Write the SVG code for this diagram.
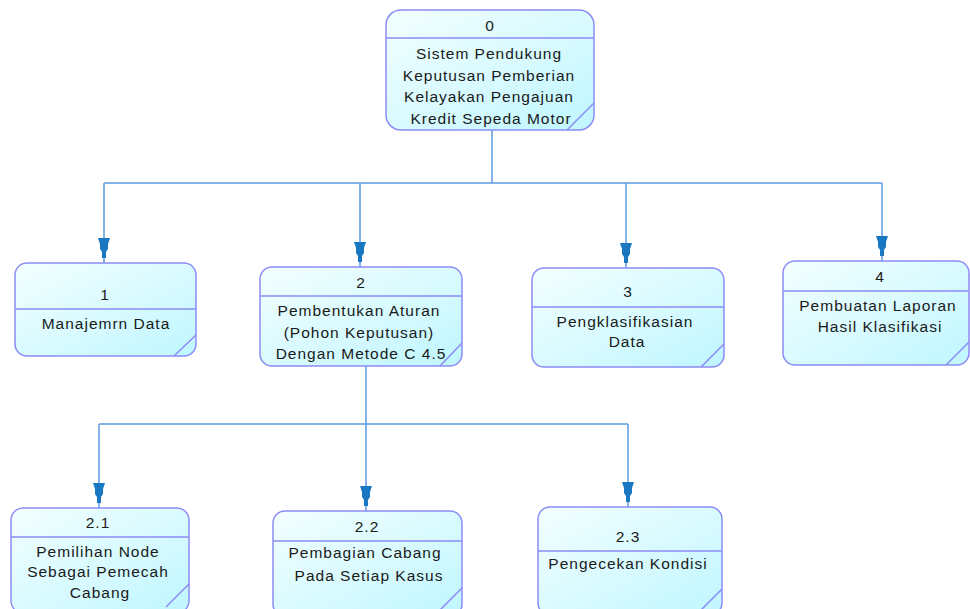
<svg xmlns="http://www.w3.org/2000/svg" width="970" height="609" viewBox="0 0 970 609">
<defs>
<linearGradient id="fill" x1="0" y1="0" x2="1" y2="1">
<stop offset="0" stop-color="#f4ffff"/>
<stop offset="1" stop-color="#bff6ff"/>
</linearGradient>
<path id="ah" d="M-6,-25 L6,-25 L4,-19 L4,-14 L2,-11 L2,-5 L-2,-5 L-2,-11 L-4,-14 L-4,-19 Z"/>
</defs>
<style>
.box{fill:url(#fill);stroke:#8c8cf4;stroke-width:1.5}
.div{stroke:#8c8cf4;stroke-width:1.5;fill:none}
.t{font-family:"Liberation Sans",Arial,sans-serif;font-size:15.5px;letter-spacing:1px;fill:#1a1a1a;text-anchor:middle}
.c{fill:none;stroke:#5b9ae0;stroke-width:1.5}
.a{fill:#1a78c2}
</style>
<g id="connectors">
<path class="c" d="M492,130 V183 M104,183 H882 M104,183 V263 M360,183 V267 M626,183 V268 M882,183 V261"/>
<use href="#ah" class="a" x="104" y="263"/>
<use href="#ah" class="a" x="360" y="267"/>
<use href="#ah" class="a" x="626" y="268"/>
<use href="#ah" class="a" x="882" y="261"/>
<path class="c" d="M366,366 V424 M99,424 H628 M99,424 V508 M366,424 V511 M628,424 V507"/>
<use href="#ah" class="a" x="99" y="508"/>
<use href="#ah" class="a" x="366" y="511"/>
<use href="#ah" class="a" x="628" y="507"/>
</g>
<g id="node0">
<rect class="box" x="386" y="10" width="208" height="120" rx="15"/>
<path class="div" d="M386,38 H594 M594,103 L567,130"/>
<text class="t" x="490" y="31">0</text>
<text class="t" x="489" y="59">Sistem Pendukung</text>
<text class="t" x="489" y="81">Keputusan Pemberian</text>
<text class="t" x="489" y="102">Kelayakan Pengajuan</text>
<text class="t" x="491" y="124">Kredit Sepeda Motor</text>
</g>
<g id="node1">
<rect class="box" x="15" y="263" width="181" height="93" rx="12"/>
<path class="div" d="M15,309 H196 M196,335 L174,356"/>
<text class="t" x="105" y="300">1</text>
<text class="t" x="106" y="329">Manajemrn Data</text>
</g>
<g id="node2">
<rect class="box" x="260" y="267" width="202" height="99" rx="12"/>
<path class="div" d="M260,296 H462 M462,343 L440,366"/>
<text class="t" x="361" y="288">2</text>
<text class="t" x="359" y="316">Pembentukan Aturan</text>
<text class="t" x="359" y="338">(Pohon Keputusan)</text>
<text class="t" x="361" y="359">Dengan Metode C 4.5</text>
</g>
<g id="node3">
<rect class="box" x="532" y="268" width="192" height="99" rx="12"/>
<path class="div" d="M532,307 H724 M724,344 L701,367"/>
<text class="t" x="628" y="297">3</text>
<text class="t" x="625" y="327">Pengklasifikasian</text>
<text class="t" x="627" y="347">Data</text>
</g>
<g id="node4">
<rect class="box" x="783" y="261" width="186" height="104" rx="12"/>
<path class="div" d="M783,291 H969 M969,342 L946,365"/>
<text class="t" x="880" y="282">4</text>
<text class="t" x="878" y="311">Pembuatan Laporan</text>
<text class="t" x="880" y="332">Hasil Klasifikasi</text>
</g>
<g id="node2_1">
<rect class="box" x="11" y="508" width="178" height="105" rx="12"/>
<path class="div" d="M11,537 H189 M189,584 L166,607"/>
<text class="t" x="98" y="528">2.1</text>
<text class="t" x="98" y="557">Pemilihan Node</text>
<text class="t" x="98" y="577">Sebagai Pemecah</text>
<text class="t" x="100" y="598">Cabang</text>
</g>
<g id="node2_2">
<rect class="box" x="273" y="511" width="189" height="105" rx="12"/>
<path class="div" d="M273,541 H462 M462,588 L439,611"/>
<text class="t" x="367" y="532">2.2</text>
<text class="t" x="365" y="558">Pembagian Cabang</text>
<text class="t" x="369" y="581">Pada Setiap Kasus</text>
</g>
<g id="node2_3">
<rect class="box" x="538" y="507" width="184" height="108" rx="12"/>
<path class="div" d="M538,551 H722 M722,589 L700,611"/>
<text class="t" x="628" y="542">2.3</text>
<text class="t" x="628" y="569">Pengecekan Kondisi</text>
</g>
</svg>
